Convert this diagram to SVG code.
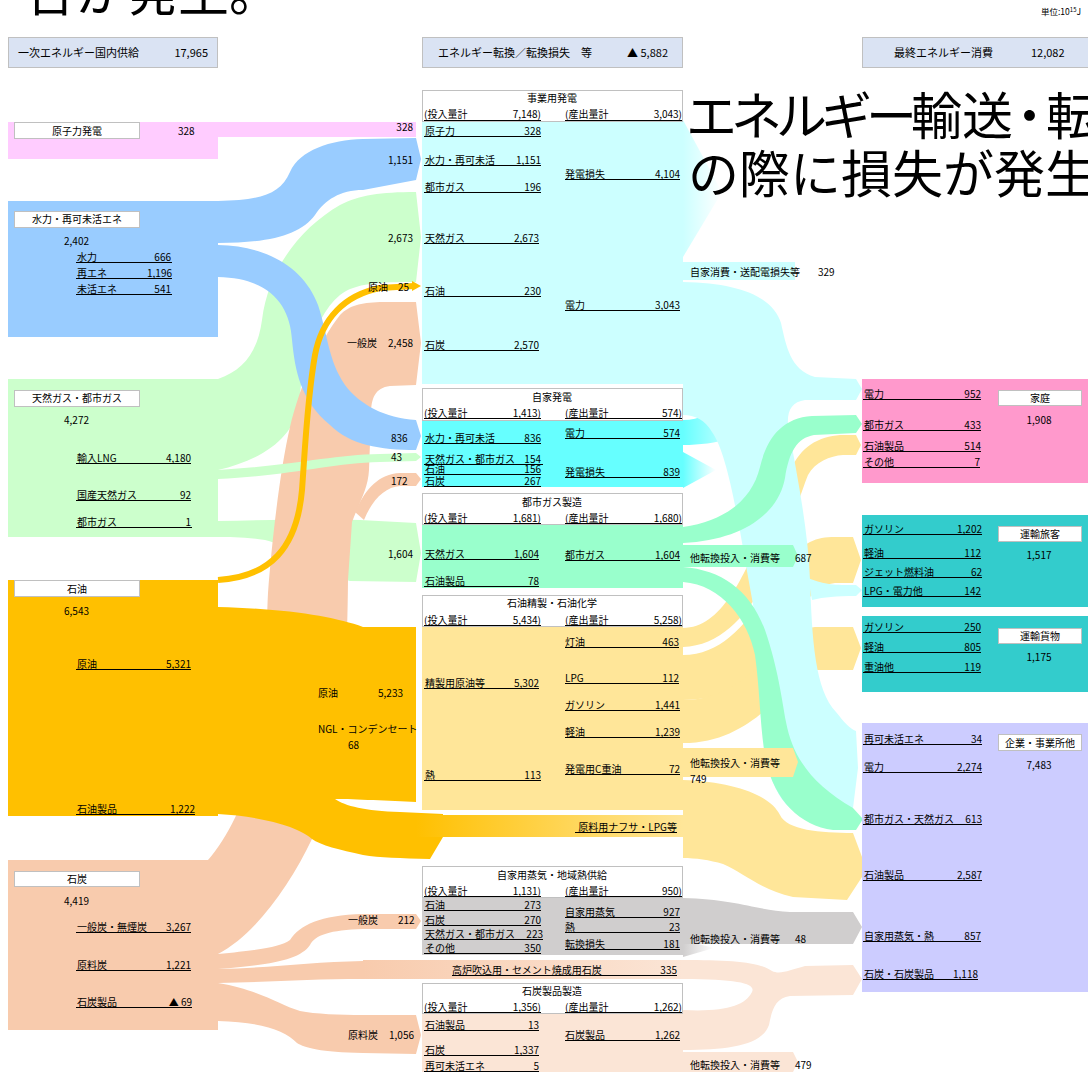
<svg xmlns="http://www.w3.org/2000/svg" width="1088" height="1072" viewBox="0 0 1088 1072">
<defs>
<style>
text{font-family:"Noto Sans CJK JP","Noto Sans",sans-serif;font-size:10px;fill:#000}
.h{font-size:11px}
.e{text-anchor:end}
.m{text-anchor:middle}
.ul{stroke:#000;stroke-width:1;fill:none}
.lb{fill:#fff;stroke:#c0c0c0;stroke-width:1}
.hd{fill:#dae3f3;stroke:#c0c0c0;stroke-width:1}
.bx{fill:#fff;stroke:#c0c0c0;stroke-width:1}
.big{font-size:51px}
</style>
<linearGradient id="gLoss" x1="0" x2="1" y1="0" y2="0"><stop offset="0" stop-color="#ccffff"/><stop offset="1" stop-color="#ccffff" stop-opacity="0"/></linearGradient>
<linearGradient id="gLoss2" x1="0" x2="1" y1="0" y2="0"><stop offset="0" stop-color="#66ffff"/><stop offset="1" stop-color="#66ffff" stop-opacity="0"/></linearGradient>
<linearGradient id="g574" x1="0" x2="1" y1="0" y2="0"><stop offset="0" stop-color="#66ffff"/><stop offset="1" stop-color="#ccffff"/></linearGradient>
<linearGradient id="gGray" x1="0" x2="1" y1="0" y2="0"><stop offset="0" stop-color="#d0cece"/><stop offset="1" stop-color="#d0cece" stop-opacity="0"/></linearGradient>
<linearGradient id="gNaph" x1="0" x2="1" y1="0" y2="0"><stop offset="0" stop-color="#ffc000"/><stop offset="1" stop-color="#ffe699"/></linearGradient>
<linearGradient id="gCoal" x1="0" x2="1" y1="0" y2="0"><stop offset="0" stop-color="#f8cbad"/><stop offset="1" stop-color="#fbe5d6"/></linearGradient>
</defs>
<rect width="1088" height="1072" fill="#fff"/>

<g id="connectors">
<path fill="#ffccff" d="M218,122H416V137H218Z"/>
<path fill="#ccffcc" d="M218,379C245,370 258,350 262,320C268,270 300,228 340,205C360,195 380,192 416,192L421,237L416,282C380,282 355,283 340,295C310,320 300,380 300,400C295,440 260,460 218,470Z"/>
<path fill="#ccffcc" d="M218,521C270,520 320,518 360,520L416,523L421,553L416,582L350,581C320,575 290,545 265,540C245,537 230,537 218,537Z"/>
<path fill="#f8cbad" d="M208,860C235,830 258,770 263,720C268,670 266,630 268,593C272,540 280,470 290,427C300,385 320,340 340,315C350,305 360,303 380,302L416,302L421,343L416,385L390,386C375,388 371,398 371,415L369,470C368,490 358,505 352,522L348,580C347,690 340,790 312,839C290,885 255,935 218,954Z"/>
<path fill="#f8cbad" d="M355,512C365,490 378,474 400,473L416,473L421,479L416,486L400,486C385,487 372,500 364,520Z"/>
<path fill="#ccffcc" d="M218,470C290,466 330,455 380,454L416,453L421,457L416,461L380,462C330,463 290,476 218,479Z"/>
<path fill="#99ccff" d="M218,201C260,200 280,195 290,172C300,150 330,140 363,139L416,138L421,159L416,180L363,190C340,190 325,200 315,215C300,235 270,243 218,243Z"/>
<path fill="#99ccff" d="M218,245C270,246 305,270 318,305C328,335 328,360 345,385C360,405 385,418 416,420L421,436L416,450C380,450 350,445 330,425C300,400 295,370 292,340C290,305 270,278 218,277Z"/>
<path fill="none" stroke="#ffc000" stroke-width="6" d="M218,580C270,577 297,548 302,490C305,450 307,400 315,355C322,318 345,295 380,288L414,286"/>
<path fill="#ffc000" d="M412,281L421,286L412,291Z"/>
<path fill="#ffc000" d="M218,607C290,609 335,617 363,627L416,627L416,802C390,801 355,799 335,799C345,806 365,811 400,812L443,814L443,837L430,859C400,858 380,858 363,855C340,850 320,845 312,839C300,827 260,816 218,814Z"/>
<rect x="416" y="815" width="267" height="22" fill="url(#gNaph)"/>
<path fill="#f8cbad" d="M218,954C260,950 280,947 290,940C300,925 320,915 363,914L416,914L421,921L416,929L363,929C330,930 315,935 310,945C300,960 270,965 218,969Z"/>
<path fill="#f8cbad" d="M218,969C270,968 310,962 363,961L363,979C310,979 270,982 218,983Z"/>
<rect x="363" y="960" width="320" height="19" fill="url(#gCoal)"/>
<path fill="#f8cbad" d="M218,983C260,990 280,1005 300,1011C315,1014 340,1015 363,1015L416,1015L421,1035L416,1054L363,1053C320,1052 305,1048 297,1043C285,1030 260,1022 218,1021Z"/>

<path fill="url(#gLoss)" d="M683,120L722,192L683,257Z"/>
<rect fill="#ccffff" x="683" y="262" width="112" height="18"/>
<path fill="#ffe699" d="M683,628C750,628 770,470 810,445C820,438 830,436 840,435L856,435L861,445L856,455L843,455C830,456 815,462 808,475C790,520 760,645 683,647Z"/>
<path fill="#ffe699" d="M683,655C750,655 775,560 810,542C818,538 825,537 835,537L853,537L861,560L853,583L835,583C820,585 810,595 800,610C775,660 745,700 683,700Z"/>
<path fill="#ffe699" d="M683,700C750,700 780,630 815,627L853,627L861,648L853,670L815,670C790,672 760,743 683,743Z"/>
<path fill="url(#g574)" d="M683,420C700,420 712,412 725,405L732,438C715,443 700,445 683,445Z"/>
<path fill="url(#gLoss2)" d="M683,452L716,470L683,488Z"/>
<path fill="#ccffff" d="M683,282C740,283 773,297 781,323C786,345 790,370 815,377L856,379L862,389L856,400L805,400C792,402 787,410 788,425C798,480 808,530 810,580C812,640 815,690 836,712C844,722 850,729 856,731L858,768L853,808L790,808C770,790 765,760 765,720C765,660 752,600 745,560C735,500 725,450 712,432C705,420 695,415 683,415Z"/>
<path fill="#ccffff" d="M808,578C825,585 835,585 856,585L862,590L856,596C835,596 825,597 812,600Z"/>
<path fill="#99ffcc" d="M683,527C725,521 752,500 760,467C767,438 782,418 812,416L856,415L862,424L856,433L814,435C797,438 789,452 785,478C779,512 745,540 683,543Z"/>
<path fill="#99ffcc" d="M683,545H793L798,556L793,567H683Z"/>
<path fill="#99ffcc" d="M683,567C722,570 750,590 765,630C778,668 782,700 786,722C793,760 815,786 853,808L863,819L856,830L833,830C800,826 775,800 766,762C760,730 760,690 755,655C748,620 722,585 683,582Z"/>
<path fill="#ffe699" d="M683,748H793L798,762L793,777H683Z"/>
<path fill="#ffe699" d="M683,780C735,782 770,795 780,815C787,830 820,833 853,833L862,857L862,877L847,900L793,897C760,890 743,872 723,864C710,860 695,858 683,858Z"/>
<path fill="#d0cece" d="M683,898C735,899 760,911 790,912L853,912L862,927L853,944L683,944Z"/>
<path fill="url(#gGray)" d="M683,940L714,948L683,957Z"/>
<path fill="#fbe5d6" d="M683,960C730,960 760,962 772,971C780,975 790,970 805,966L853,965L862,979L853,995L790,996C775,998 772,1010 769,1025C762,1045 730,1050 683,1050L683,1010C725,1012 745,1006 752,992C756,984 740,979 683,979Z"/>
<path fill="#fbe5d6" d="M683,1052H793L798,1062L793,1072H683Z"/>

<text class="e" x="413" y="130.5">328</text>
<text class="e" x="413" y="163.5">1,151</text>
<text class="e" x="413" y="241.5">2,673</text>
<text x="368" y="290.5">原油</text><text x="398" y="290.5">25</text>
<text x="347" y="346.5">一般炭</text><text class="e" x="413" y="346.5">2,458</text>
<text x="391" y="441.5">836</text>
<text x="391" y="460.5">43</text>
<text x="391" y="484.5">172</text>
<text class="e" x="413" y="557.5">1,604</text>
<text x="318" y="696.5">原油</text><text x="378" y="696.5">5,233</text>
<text x="318" y="732.5">NGL・コンデンセート</text><text x="348" y="748.5">68</text>
<text class="e" x="677" y="830.5">原料用ナフサ・LPG等</text>
<text x="348" y="923.5">一般炭</text><text x="398" y="923.5">212</text>
<text x="452" y="973.5">高炉吹込用・セメント焼成用石炭</text><text class="e" x="677" y="973.5">335</text>
<text x="348" y="1038.5">原料炭</text><text class="e" x="414" y="1038.5">1,056</text>
<text x="690" y="275.5">自家消費・送配電損失等</text><text x="818" y="275.5">329</text>
<text x="690" y="561.5">他転換投入・消費等</text><text x="795" y="561.5">687</text>
<text x="690" y="766.5">他転換投入・消費等</text><text x="690" y="782.5">749</text>
<text x="690" y="942.5">他転換投入・消費等</text><text x="795" y="942.5">48</text>
<text x="690" y="1068.5">他転換投入・消費等</text><text x="795" y="1068.5">479</text>
<path class="ul" d="M575,832.5H677M452,975.5H677"/>
</g>

<g id="header-primary">
<rect class="hd" x="8.5" y="37.5" width="209" height="30"/>
<text class="h" x="18" y="57">一次エネルギー国内供給</text>
<text class="h e" x="208" y="57">17,965</text>
</g>
<g id="header-conversion">
<rect class="hd" x="422.5" y="37.5" width="260" height="30"/>
<text class="h" x="438" y="57">エネルギー転換／転換損失　等</text>
<text class="h e" x="668" y="57">▲ 5,882</text>
</g>
<g id="header-final">
<rect class="hd" x="862.5" y="37.5" width="240" height="30"/>
<text class="h" x="894" y="57">最終エネルギー消費</text>
<text class="h" x="1031" y="57">12,082</text>
</g>
<text x="1041" y="15" style="font-size:8.5px">単位:10<tspan dy="-3" style="font-size:6px">15</tspan><tspan dy="3">J</tspan></text>

<g id="nuclear">
<rect x="8" y="122" width="210" height="37" fill="#ffccff"/>
<rect class="lb" x="14.5" y="122.5" width="125" height="16"/>
<text class="m" x="77" y="134.5">原子力発電</text>
<text x="178" y="134.5">328</text>
</g>
<g id="hydro">
<rect x="8" y="201" width="210" height="136" fill="#99ccff"/>
<rect class="lb" x="14.5" y="211.5" width="125" height="16"/>
<text class="m" x="77" y="223">水力・再可未活エネ</text>
<text x="64" y="244.5">2,402</text>
<text x="77" y="260.5">水力</text><text class="e" x="171" y="260.5">666</text>
<text x="77" y="276.5">再エネ</text><text class="e" x="172" y="276.5">1,196</text>
<text x="77" y="292.5">未活エネ</text><text class="e" x="171" y="292.5">541</text>
<path class="ul" d="M76,262.5H172M76,278.5H172M76,294.5H172"/>
</g>
<g id="gas">
<rect x="8" y="379" width="210" height="158" fill="#ccffcc"/>
<rect class="lb" x="14.5" y="390.5" width="125" height="16"/>
<text class="m" x="77" y="402">天然ガス・都市ガス</text>
<text x="64" y="423.5">4,272</text>
<text x="77" y="461.5">輸入LNG</text><text class="e" x="191" y="461.5">4,180</text>
<text x="77" y="498.5">国産天然ガス</text><text class="e" x="191" y="498.5">92</text>
<text x="77" y="525.5">都市ガス</text><text class="e" x="191" y="525.5">1</text>
<path class="ul" d="M76,463.5H191M76,500.5H191M76,527.5H192"/>
</g>
<g id="oil">
<rect x="8" y="580" width="210" height="236" fill="#ffc000"/>
<rect class="lb" x="14.5" y="580.5" width="125" height="16"/>
<text class="m" x="77" y="592.5">石油</text>
<text x="64" y="614.5">6,543</text>
<text x="77" y="667.5">原油</text><text class="e" x="191" y="667.5">5,321</text>
<text x="77" y="812.5">石油製品</text><text class="e" x="195" y="812.5">1,222</text>
<path class="ul" d="M76,669.5H191M76,814.5H195"/>
</g>
<g id="coal">
<rect x="8" y="860" width="210" height="170" fill="#f8cbad"/>
<rect class="lb" x="14.5" y="871.5" width="125" height="15"/>
<text class="m" x="77" y="882.5">石炭</text>
<text x="64" y="904.5">4,419</text>
<text x="77" y="930.5">一般炭・無煙炭</text><text class="e" x="191" y="930.5">3,267</text>
<text x="77" y="968.5">原料炭</text><text class="e" x="191" y="968.5">1,221</text>
<text x="77" y="1005.5">石炭製品</text><text class="e" x="192" y="1005.5">▲ 69</text>
<path class="ul" d="M76,932.5H191M76,970.5H191M76,1007.5H192"/>
</g>

<g id="utility-power">
<rect class="bx" x="422.5" y="90.5" width="260" height="31"/>
<rect x="422" y="122" width="261" height="262" fill="#ccffff"/>
<text class="m" x="552" y="101.5">事業用発電</text>
<text x="424" y="118">(投入量計</text><text class="e" x="541" y="118">7,148)</text>
<text x="565" y="118">(産出量計</text><text class="e" x="682" y="118">3,043)</text>
<text x="425" y="134.5">原子力</text><text class="e" x="541" y="134.5">328</text>
<text x="425" y="163.5">水力・再可未活</text><text class="e" x="541" y="163.5">1,151</text>
<text x="425" y="190.5">都市ガス</text><text class="e" x="541" y="190.5">196</text>
<text x="425" y="241.5">天然ガス</text><text class="e" x="539" y="241.5">2,673</text>
<text x="425" y="294.5">石油</text><text class="e" x="541" y="294.5">230</text>
<text x="425" y="348.5">石炭</text><text class="e" x="539" y="348.5">2,570</text>
<text x="565" y="177.5">発電損失</text><text class="e" x="680" y="177.5">4,104</text>
<text x="565" y="308.5">電力</text><text class="e" x="680" y="308.5">3,043</text>
<path class="ul" d="M424,120.5H541M565,120.5H682M424,136.5H541M424,165.5H541M424,192.5H541M424,243.5H539M424,296.5H541M424,350.5H539M565,179.5H680M565,310.5H680"/>
</g>
<g id="autoproducer-power">
<rect class="bx" x="422.5" y="388.5" width="260" height="32"/>
<rect x="422" y="421" width="261" height="66" fill="#66ffff"/>
<text class="m" x="552" y="400.5">自家発電</text>
<text x="424" y="416.5">(投入量計</text><text class="e" x="541" y="416.5">1,413)</text>
<text x="565" y="416.5">(産出量計</text><text class="e" x="682" y="416.5">574)</text>
<text x="425" y="441.5">水力・再可未活</text><text class="e" x="541" y="441.5">836</text>
<text x="425" y="462.5">天然ガス・都市ガス</text><text class="e" x="541" y="462.5">154</text>
<text x="425" y="472.5">石油</text><text class="e" x="541" y="472.5">156</text>
<text x="425" y="484.5">石炭</text><text class="e" x="541" y="484.5">267</text>
<text x="565" y="436.5">電力</text><text class="e" x="680" y="436.5">574</text>
<text x="565" y="475.5">発電損失</text><text class="e" x="680" y="475.5">839</text>
<path class="ul" d="M424,418.5H541M565,418.5H682M424,443.5H541M424,464.5H543M424,474.5H541M424,486.5H541M565,438.5H680M565,477.5H680"/>
</g>
<g id="city-gas">
<rect class="bx" x="422.5" y="493.5" width="260" height="31"/>
<rect x="422" y="525" width="261" height="63" fill="#99ffcc"/>
<text class="m" x="552" y="505.5">都市ガス製造</text>
<text x="424" y="521.5">(投入量計</text><text class="e" x="541" y="521.5">1,681)</text>
<text x="565" y="521.5">(産出量計</text><text class="e" x="682" y="521.5">1,680)</text>
<text x="425" y="557.5">天然ガス</text><text class="e" x="539" y="557.5">1,604</text>
<text x="425" y="584.5">石油製品</text><text class="e" x="539" y="584.5">78</text>
<text x="565" y="558.5">都市ガス</text><text class="e" x="680" y="558.5">1,604</text>
<path class="ul" d="M424,523.5H541M565,523.5H682M424,559.5H539M424,586.5H539M565,560.5H680"/>
</g>
<g id="refinery">
<rect class="bx" x="422.5" y="595.5" width="260" height="31"/>
<rect x="422" y="627" width="261" height="183" fill="#ffe699"/>
<text class="m" x="552" y="606.5">石油精製・石油化学</text>
<text x="424" y="623.5">(投入量計</text><text class="e" x="541" y="623.5">5,434)</text>
<text x="565" y="623.5">(産出量計</text><text class="e" x="682" y="623.5">5,258)</text>
<text x="425" y="686.5">精製用原油等</text><text class="e" x="539" y="686.5">5,302</text>
<text x="425" y="778.5">熱</text><text class="e" x="541" y="778.5">113</text>
<text x="565" y="645.5">灯油</text><text class="e" x="679" y="645.5">463</text>
<text x="565" y="681.5">LPG</text><text class="e" x="679" y="681.5">112</text>
<text x="565" y="708.5">ガソリン</text><text class="e" x="680" y="708.5">1,441</text>
<text x="565" y="735.5">軽油</text><text class="e" x="680" y="735.5">1,239</text>
<text x="565" y="772.5">発電用C重油</text><text class="e" x="680" y="772.5">72</text>
<path class="ul" d="M424,625.5H541M565,625.5H682M424,688.5H539M424,780.5H541M565,647.5H679M565,683.5H679M565,710.5H680M565,737.5H680M565,774.5H680"/>
</g>
<g id="steam-heat">
<rect class="bx" x="422.5" y="866.5" width="260" height="31"/>
<rect x="422" y="898" width="261" height="57" fill="#d0cece"/>
<text class="m" x="552" y="878.5">自家用蒸気・地域熱供給</text>
<text x="424" y="894.5">(投入量計</text><text class="e" x="541" y="894.5">1,131)</text>
<text x="565" y="894.5">(産出量計</text><text class="e" x="682" y="894.5">950)</text>
<text x="425" y="908.5">石油</text><text class="e" x="541" y="908.5">273</text>
<text x="425" y="923.5">石炭</text><text class="e" x="541" y="923.5">270</text>
<text x="425" y="937.5">天然ガス・都市ガス</text><text class="e" x="543" y="937.5">223</text>
<text x="425" y="951.5">その他</text><text class="e" x="541" y="951.5">350</text>
<text x="565" y="915.5">自家用蒸気</text><text class="e" x="680" y="915.5">927</text>
<text x="565" y="930.5">熱</text><text class="e" x="680" y="930.5">23</text>
<text x="565" y="947.5">転換損失</text><text class="e" x="680" y="947.5">181</text>
<path class="ul" d="M424,896.5H541M565,896.5H682M424,910.5H541M424,925.5H541M424,939.5H543M424,953.5H541M565,917.5H680M565,932.5H680M565,949.5H680"/>
</g>
<g id="coal-products">
<rect class="bx" x="422.5" y="983.5" width="260" height="30"/>
<rect x="422" y="1014" width="261" height="58" fill="#fbe5d6"/>
<text class="m" x="552" y="994.5">石炭製品製造</text>
<text x="424" y="1010.5">(投入量計</text><text class="e" x="541" y="1010.5">1,356)</text>
<text x="565" y="1010.5">(産出量計</text><text class="e" x="682" y="1010.5">1,262)</text>
<text x="425" y="1028.5">石油製品</text><text class="e" x="539" y="1028.5">13</text>
<text x="425" y="1053.5">石炭</text><text class="e" x="539" y="1053.5">1,337</text>
<text x="425" y="1069.5">再可未活エネ</text><text class="e" x="539" y="1069.5">5</text>
<text x="565" y="1038.5">石炭製品</text><text class="e" x="680" y="1038.5">1,262</text>
<path class="ul" d="M424,1012.5H541M565,1012.5H682M424,1030.5H539M424,1055.5H539M424,1071.5H539M565,1040.5H680"/>
</g>

<g id="household">
<rect x="862" y="379" width="226" height="104" fill="#ff99cc"/>
<text x="864" y="397.5">電力</text><text class="e" x="981" y="397.5">952</text>
<text x="864" y="428.5">都市ガス</text><text class="e" x="981" y="428.5">433</text>
<text x="864" y="449.5">石油製品</text><text class="e" x="981" y="449.5">514</text>
<text x="864" y="465.5">その他</text><text class="e" x="980" y="465.5">7</text>
<path class="ul" d="M863,399.5H981M863,430.5H981M863,451.5H981M863,467.5H980"/>
<rect class="lb" x="998.5" y="390.5" width="83" height="15"/>
<text class="m" x="1040" y="401.5">家庭</text>
<text class="m" x="1039" y="423.5">1,908</text>
</g>
<g id="passenger">
<rect x="862" y="515" width="226" height="92" fill="#33cccc"/>
<text x="864" y="532.5">ガソリン</text><text class="e" x="982" y="532.5">1,202</text>
<text x="864" y="556.5">軽油</text><text class="e" x="981" y="556.5">112</text>
<text x="864" y="575.5">ジェット燃料油</text><text class="e" x="982" y="575.5">62</text>
<text x="864" y="594.5">LPG・電力他</text><text class="e" x="981" y="594.5">142</text>
<path class="ul" d="M863,534.5H982M863,558.5H981M863,577.5H982M863,596.5H981"/>
<rect class="lb" x="998.5" y="526.5" width="83" height="15"/>
<text class="m" x="1040" y="537.5">運輸旅客</text>
<text class="m" x="1039" y="558.5">1,517</text>
</g>
<g id="freight">
<rect x="862" y="616" width="226" height="76" fill="#33cccc"/>
<text x="864" y="630.5">ガソリン</text><text class="e" x="981" y="630.5">250</text>
<text x="864" y="650.5">軽油</text><text class="e" x="981" y="650.5">805</text>
<text x="864" y="670.5">重油他</text><text class="e" x="981" y="670.5">119</text>
<path class="ul" d="M863,632.5H981M863,652.5H981M863,672.5H981"/>
<rect class="lb" x="998.5" y="628.5" width="83" height="15"/>
<text class="m" x="1040" y="639.5">運輸貨物</text>
<text class="m" x="1039" y="660.5">1,175</text>
</g>
<g id="business">
<rect x="862" y="723" width="226" height="269" fill="#ccccff"/>
<text x="864" y="742.5">再可未活エネ</text><text class="e" x="982" y="742.5">34</text>
<text x="864" y="770.5">電力</text><text class="e" x="982" y="770.5">2,274</text>
<text x="864" y="822.5">都市ガス・天然ガス</text><text class="e" x="982" y="822.5">613</text>
<text x="864" y="878.5">石油製品</text><text class="e" x="982" y="878.5">2,587</text>
<text x="864" y="939.5">自家用蒸気・熱</text><text class="e" x="981" y="939.5">857</text>
<text x="864" y="977.5">石炭・石炭製品</text><text class="e" x="978" y="977.5">1,118</text>
<path class="ul" d="M863,744.5H982M863,772.5H982M863,824.5H982M863,880.5H982M863,941.5H981M863,979.5H978"/>
<rect class="lb" x="998.5" y="734.5" width="83" height="16"/>
<text class="m" x="1040" y="746.5">企業・事業所他</text>
<text class="m" x="1039" y="768.5">7,483</text>
</g>

<text class="big" x="25" y="11">合が発生。</text>
<text class="big" x="686" y="135"><tspan letter-spacing="-6">エネルギー</tspan>輸<tspan letter-spacing="-9">送・</tspan>転換</text>
<text class="big" x="688" y="193">の際に損失が発生</text>
</svg>
